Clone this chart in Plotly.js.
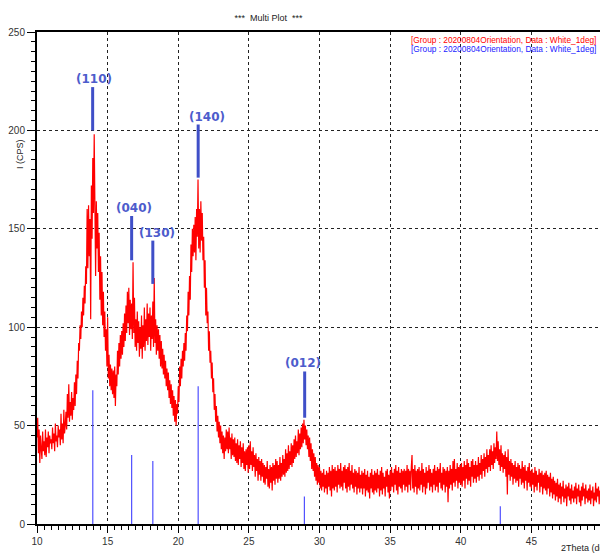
<!DOCTYPE html>
<html><head><meta charset="utf-8">
<script src="https://cdn.plot.ly/plotly-3.0.1.min.js"></script>
<style>html,body{margin:0;padding:0;overflow:hidden;background:#fff;width:600px;height:554px}#chart{width:640px;height:554px}</style>
</head><body><div id="chart"></div>
<script>
// scan parameters (2Theta start and step, deg)
const scanStart = 10.0;
const scanStep = 0.05;
// measured intensity (CPS), one row per degree (10..49)
const intensity = [
44,54,36,48,31,45,38,33,47,37,42,35,48,34,44,39,47,36,45,41,
43,38,49,41,46,37,51,42,45,39,50,44,48,40,56,43,51,41,58,46,
50,57,48,66,54,71,52,62,55,67,53,64,58,72,60,76,66,83,74,92,
88,101,94,108,100,115,106,121,112,131,122,160,130,162,136,155,104,172,145,186,
158,198,162,126,164,140,158,128,148,114,136,106,128,101,118,95,108,88,99,80,
105,74,86,70,81,68,79,66,78,64,80,60,76,70,88,76,92,80,96,84,
98,86,102,90,107,93,111,97,118,102,120,96,114,99,112,94,133,97,115,90,
104,88,108,92,103,85,100,89,106,84,101,90,110,88,104,93,112,91,107,95,
110,88,106,94,113,90,125,92,104,86,101,88,99,84,96,80,93,79,89,76,
86,74,83,70,79,68,77,64,73,61,71,59,68,55,65,52,63,50,61,56,
70,62,80,70,84,74,88,80,92,83,97,88,106,98,118,106,126,114,142,128,
150,136,152,138,156,134,160,146,175,140,160,138,164,144,158,134,146,120,134,106,
120,102,108,88,98,82,88,74,82,67,74,58,66,52,60,47,55,44,52,41,
50,38,47,36,45,33,44,37,48,38,47,36,49,38,44,33,46,35,43,34,
44,32,41,31,43,30,40,33,42,29,39,31,41,28,37,27,38,30,39,26,
40,28,42,30,37,27,39,29,35,24,36,27,33,22,34,25,32,22,33,24,
31,21,30,20,29,23,32,19,28,18,30,21,29,17,31,22,30,20,33,23,
32,21,30,23,34,22,31,24,35,25,33,24,38,26,36,27,40,28,37,30,
41,29,40,31,43,33,45,34,42,36,48,35,46,38,49,39,51,41,53,43,
50,40,48,38,45,34,44,32,41,28,38,27,36,24,34,22,31,20,30,21,
29,18,27,17,26,19,28,16,25,18,27,15,26,19,29,17,27,14,30,18,
28,17,29,19,27,16,30,20,28,18,31,19,27,17,29,21,30,18,28,16,
29,19,31,17,27,20,30,18,26,16,28,19,27,15,26,18,29,16,25,18,
27,15,26,18,28,14,25,17,27,16,24,13,26,18,28,16,25,15,27,17,
26,16,28,18,25,14,27,17,29,15,26,18,24,14,27,19,28,16,25,13,
27,17,29,19,26,16,28,20,30,17,27,15,29,19,26,18,28,16,27,20,
28,17,27,19,30,16,28,20,27,17,29,35,18,28,16,30,19,27,15,28,
18,29,17,27,20,31,16,28,19,26,15,29,18,27,21,30,17,28,19,26,
16,28,20,30,17,27,19,29,16,28,21,31,18,26,17,29,20,28,16,27,
19,29,11,27,18,30,20,28,17,32,21,33,19,28,22,31,18,29,21,30,
20,31,19,29,22,32,18,30,23,33,20,31,22,29,19,32,24,33,21,30,
23,32,21,30,24,34,22,31,25,35,23,33,27,36,24,34,28,38,26,35,
29,38,27,40,30,37,28,41,31,39,33,47,32,42,30,38,27,40,29,36,
26,35,28,37,24,34,15,38,25,32,22,33,24,31,20,30,23,32,21,29,
22,31,19,30,23,28,20,32,21,29,18,30,22,27,17,29,21,31,19,27,
18,28,20,26,16,29,19,27,17,25,21,28,16,26,19,27,15,25,18,26,
17,27,15,25,18,24,14,26,16,23,13,24,15,22,12,21,14,23,11,20,
13,21,10,19,14,22,11,18,13,20,9,19,14,21,12,18,10,20,13,17,
11,19,13,21,10,18,14,20,11,17,9,19,12,21,14,18,10,20,13,17,
11,18,12,20,10,17,13,19,9,16,12,21,11,18,14,19,10,17,13,18
];
// reference pattern sticks
const refPos = [13.95, 16.70, 18.20, 21.41, 28.93, 42.80];
const refInt = [68, 35, 32, 70, 14, 9];
// indexed peaks (hkl)
const hklLabels = ['(110)', '(040)', '(130)', '(140)', '(012)'];
const hklPos = [13.94, 16.70, 18.20, 21.41, 28.95];
const hklBottom = [200, 134, 122, 176, 54];
const hklTop = [222, 156.5, 144, 203, 77.5];
const hklLabelPos = [14.01, 16.85, 18.49, 22.0, 28.81];
const xTicks = [10, 15, 20, 25, 30, 35, 40, 45];
const yTicks = [0, 50, 100, 150, 200, 250];
const seriesName = '[Group : 20200804Orientation, Data : White_1deg]';

const stickX = [], stickY = [];
refPos.forEach((p, i) => { stickX.push(p, p, null); stickY.push(0, refInt[i], null); });
const barX = [], barY = [];
hklPos.forEach((p, i) => { barX.push(p, p, null); barY.push(hklBottom[i], hklTop[i], null); });

const traces = [
  {type: 'scatter', mode: 'lines', x0: scanStart, dx: scanStep, y: intensity,
   line: {color: '#ff0000', width: 1.2}, hoverinfo: 'skip'},
  {type: 'scatter', mode: 'lines', x: stickX, y: stickY,
   line: {color: '#5050ff', width: 1.2}, hoverinfo: 'skip'},
  {type: 'scatter', mode: 'lines', x: barX, y: barY,
   line: {color: '#3f4fc8', width: 3}, hoverinfo: 'skip'}
];

const annotations = hklLabels.map((t, i) => ({
  x: hklLabelPos[i], y: hklTop[i], xref: 'x', yref: 'y', text: t, showarrow: false,
  xanchor: 'center', yanchor: 'middle', yshift: 8,
  font: {family: 'DejaVu Sans', size: 12, color: '#4d5ccc', weight: 'bold'}
}));
annotations.push(
  {xref: 'paper', yref: 'paper', x: 0.993, y: 0.9837, xanchor: 'right', yanchor: 'middle',
   text: seriesName, showarrow: false, font: {family: 'Liberation Sans', size: 8.3, color: '#ff0000'}},
  {xref: 'paper', yref: 'paper', x: 0.993, y: 0.9654, xanchor: 'right', yanchor: 'middle',
   text: seriesName, showarrow: false, font: {family: 'Liberation Sans', size: 8.3, color: '#2222ff'}},
  {xref: 'paper', yref: 'paper', x: 0.924, y: -0.049, xanchor: 'left', yanchor: 'middle',
   text: '2Theta (deg)', showarrow: false, font: {family: 'Liberation Sans', size: 9, color: '#222'}},
  {xref: 'paper', yref: 'paper', x: -0.030, y: 0.752, xanchor: 'center', yanchor: 'middle', textangle: -90,
   text: 'I (CPS)', showarrow: false, font: {family: 'Liberation Sans', size: 9, color: '#222'}}
);

const axisCommon = {
  showline: true, linecolor: '#000', linewidth: 2, mirror: true,
  ticks: 'outside', ticklen: 7, tickwidth: 1, tickcolor: '#000',
  showgrid: true, gridcolor: '#222', gridwidth: 1, griddash: 'dot',
  zeroline: false, tickfont: {family: 'Liberation Sans', size: 10, color: '#333'}
};

const layout = {
  width: 640, height: 554,
  margin: {l: 37, r: 38, t: 32, b: 30},
  paper_bgcolor: '#fff', plot_bgcolor: '#fff', showlegend: false,
  title: {text: '***  Multi Plot  ***', x: 0.4195, xanchor: 'center', y: 0.968, yanchor: 'middle',
          font: {family: 'Liberation Sans', size: 9, color: '#222'}},
  xaxis: Object.assign({}, axisCommon, {range: [10, 50], tickmode: 'array', tickvals: xTicks,
          minor: {dtick: 0.5, ticks: 'outside', ticklen: 4, tickcolor: '#000', showgrid: false}}),
  yaxis: Object.assign({}, axisCommon, {range: [0, 250], tickmode: 'array', tickvals: yTicks, ticklen: 8,
          minor: {dtick: 5, ticks: 'outside', ticklen: 4, tickcolor: '#000', showgrid: false}}),
  annotations: annotations
};

Plotly.newPlot('chart', traces, layout, {staticPlot: true, displayModeBar: false});
</script>
</body></html>
